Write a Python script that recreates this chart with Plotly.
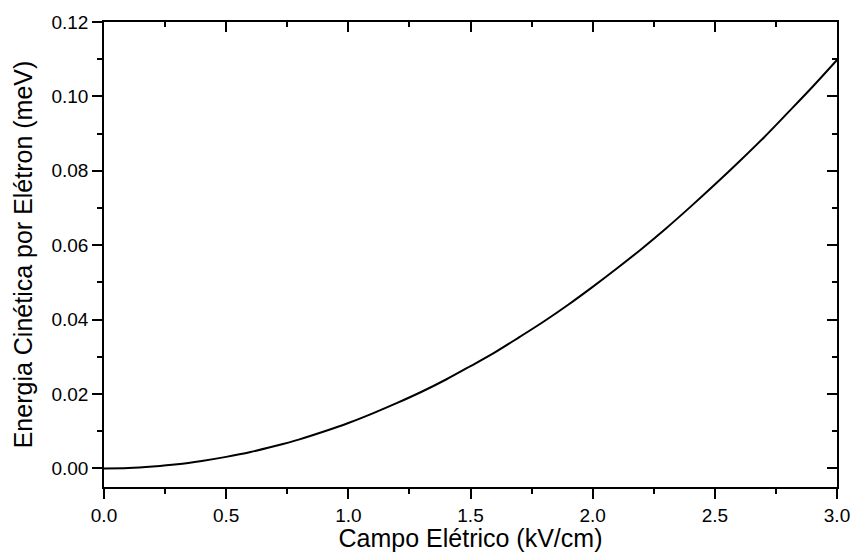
import plotly.graph_objects as go

# Campo Elétrico (kV/cm)
campo = [0.0, 0.1, 0.2, 0.3, 0.4, 0.5, 0.6, 0.7, 0.8, 0.9, 1.0,
         1.1, 1.2, 1.3, 1.4, 1.5, 1.6, 1.7, 1.8, 1.9, 2.0,
         2.1, 2.2, 2.3, 2.4, 2.5, 2.6, 2.7, 2.8, 2.9, 3.0]
# Energia Cinética por Elétron (meV)
energia = [0.0, 0.0001, 0.0005, 0.0011, 0.002, 0.0031, 0.0044, 0.006, 0.0078, 0.0099, 0.0122,
           0.0148, 0.0176, 0.0206, 0.0239, 0.0275, 0.0312, 0.0353, 0.0395, 0.044, 0.0488,
           0.0538, 0.059, 0.0645, 0.0703, 0.0763, 0.0825, 0.0889, 0.0957, 0.1026, 0.1098]

x_ticks = [0.0, 0.5, 1.0, 1.5, 2.0, 2.5, 3.0]
y_ticks = [0.00, 0.02, 0.04, 0.06, 0.08, 0.10, 0.12]

FONT = "Liberation Sans, Arial, sans-serif"

fig = go.Figure()
fig.add_trace(go.Scatter(x=campo, y=energia, mode="lines", line=dict(color="black", width=2),
                         line_shape="spline", showlegend=False, hoverinfo="skip"))
fig.add_trace(go.Scatter(x=campo, y=energia, mode="lines", xaxis="x2", yaxis="y2",
                         line=dict(color="rgba(0,0,0,0)", width=0), showlegend=False, hoverinfo="skip"))

axis_common = dict(showgrid=False, zeroline=False, showline=True, linecolor="black", linewidth=1.5,
                   tickcolor="black", tickwidth=1.5, ticklen=10, automargin=False)

fig.update_layout(
    width=853, height=552,
    paper_bgcolor="white", plot_bgcolor="white",
    margin=dict(l=104, r=16, t=22, b=65),
    font=dict(family=FONT, color="black"),
    xaxis=dict(range=[0, 3], tickvals=x_ticks, ticktext=[f"{v:.1f}" for v in x_ticks], ticks="outside",
               tickfont=dict(size=19), title=dict(text="Campo Elétrico (kV/cm)", font=dict(size=25), standoff=0),
               minor=dict(dtick=0.25, ticks="outside", ticklen=5, tickwidth=1.5, tickcolor="black"),
               **axis_common),
    yaxis=dict(range=[-0.005, 0.12], tickvals=y_ticks, ticktext=[f"{v:.2f}" for v in y_ticks], ticks="outside",
               tickfont=dict(size=19), title=dict(text="Energia Cinética por Elétron (meV)", font=dict(size=25), standoff=12),
               minor=dict(tick0=0, dtick=0.01, ticks="outside", ticklen=5, tickwidth=1.5, tickcolor="black"),
               **axis_common),
    xaxis2=dict(range=[0, 3], overlaying="x", side="top", anchor="y", tickvals=x_ticks, ticks="inside",
                showticklabels=False,
                minor=dict(dtick=0.25, ticks="inside", ticklen=5, tickwidth=1.5, tickcolor="black"),
                **axis_common),
    yaxis2=dict(range=[-0.005, 0.12], overlaying="y", side="right", anchor="x", tickvals=y_ticks, ticks="inside",
                showticklabels=False,
                minor=dict(tick0=0, dtick=0.01, ticks="inside", ticklen=5, tickwidth=1.5, tickcolor="black"),
                **axis_common),
)

fig.write_html("out.html", config={"displayModeBar": False},
               post_script="document.body.style.margin='0';document.body.style.padding='0';")
